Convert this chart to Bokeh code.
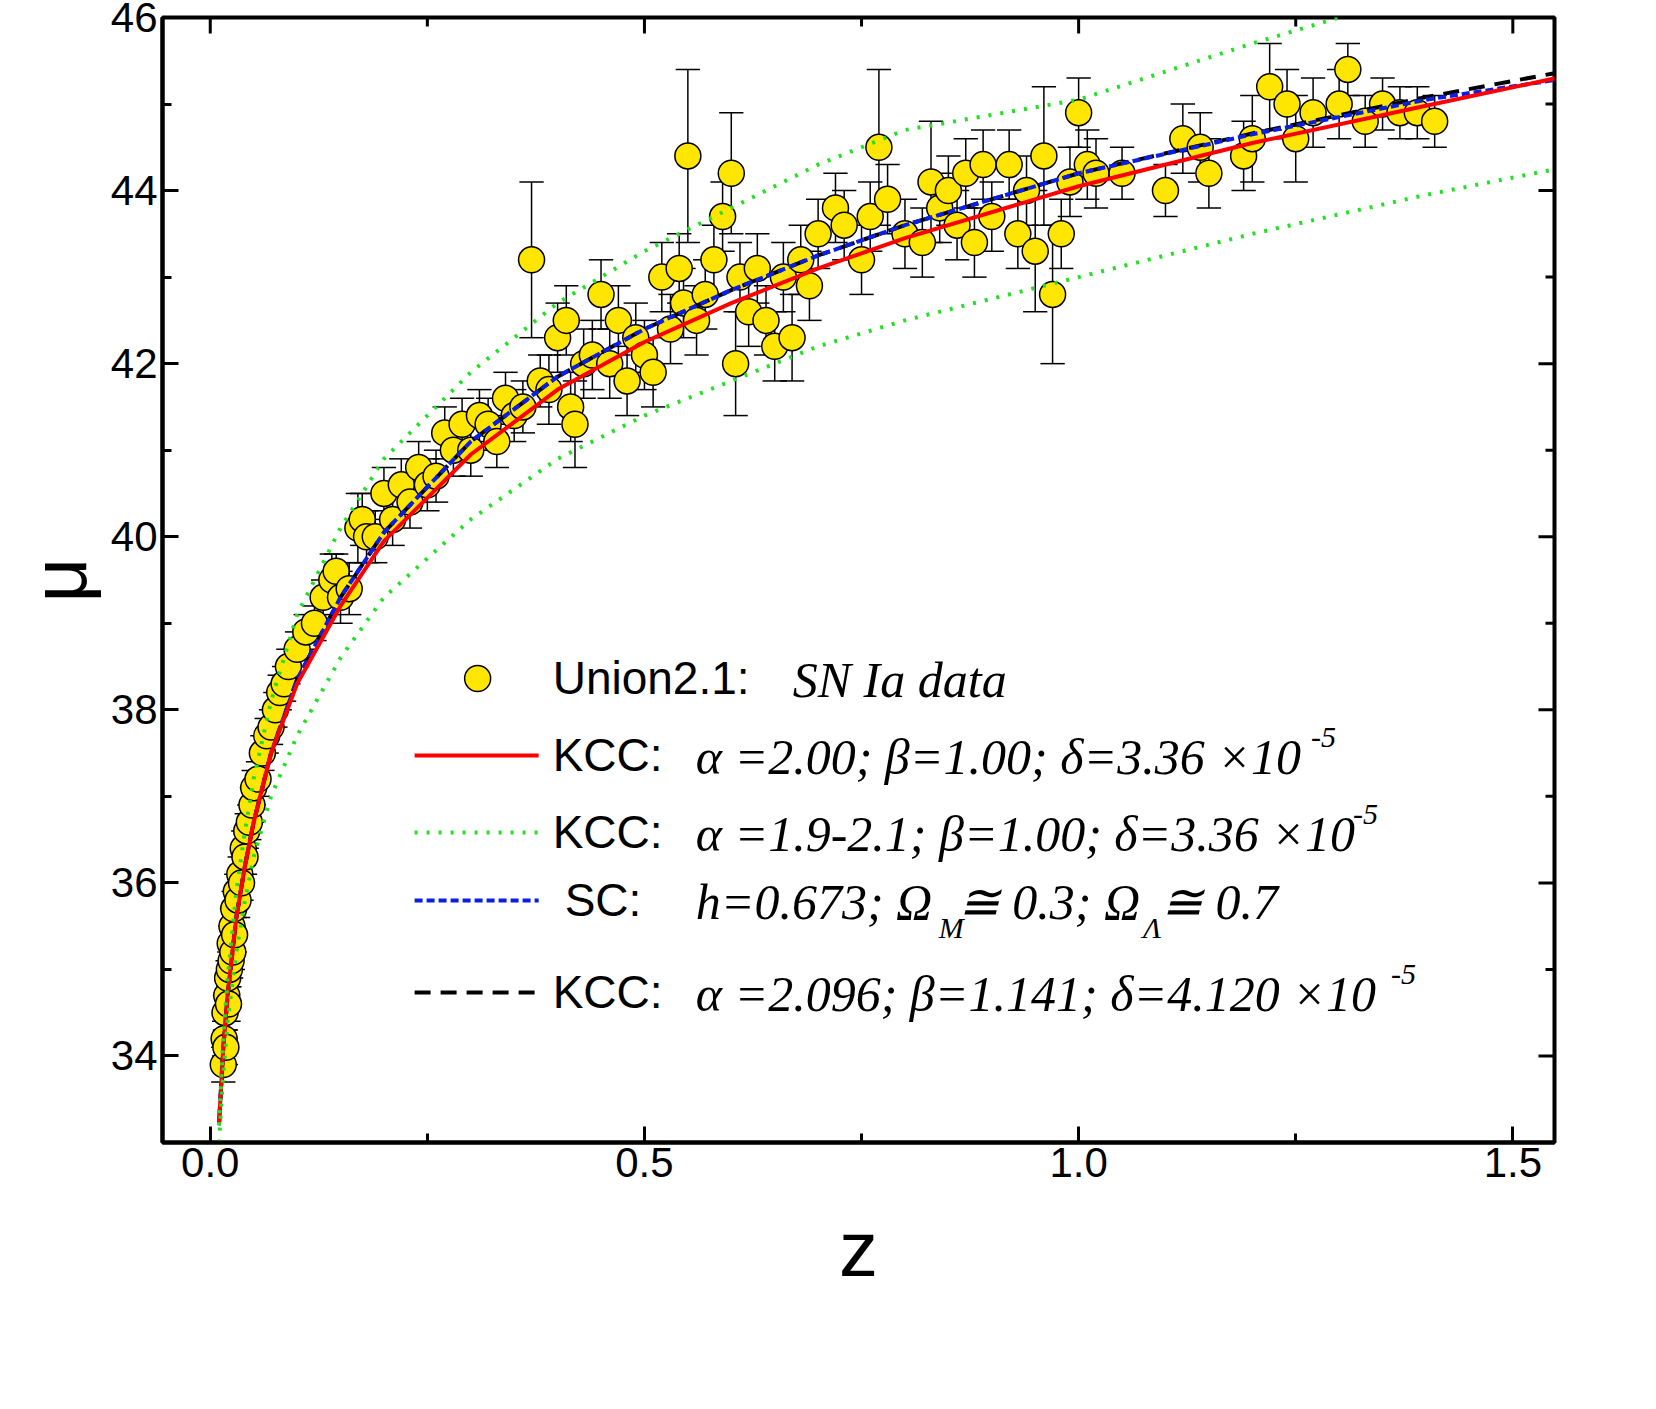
from bokeh.plotting import figure
from bokeh.models import Label, Range1d, FixedTicker
from bokeh.embed import file_html
from bokeh.resources import INLINE

# ---- data ----
sn_z = [0.015,0.016,0.017,0.018,0.019,0.02,0.021,0.022,0.023,0.024,0.025,0.026,0.027,0.028,0.03,0.032,0.034,0.036,0.038,0.04,
        0.042,0.045,0.048,0.05,0.055,0.06,0.065,0.07,0.075,0.08,0.085,0.09,0.1,0.11,0.12,0.13,0.14,0.145,0.15,0.16,
        0.17,0.175,0.18,0.19,0.2,0.21,0.22,0.23,0.24,0.25,0.26,0.27,0.28,0.29,0.3,0.31,0.32,0.33,0.34,0.35,
        0.36,0.37,0.38,0.39,0.4,0.41,0.415,0.42,0.43,0.44,0.45,0.46,0.47,0.48,0.49,0.5,0.51,0.52,0.53,0.54,
        0.545,0.55,0.56,0.57,0.58,0.59,0.6,0.605,0.61,0.62,0.63,0.64,0.65,0.66,0.67,0.68,0.69,0.7,0.72,0.73,
        0.75,0.76,0.77,0.78,0.8,0.82,0.83,0.84,0.85,0.86,0.87,0.88,0.89,0.9,0.92,0.93,0.94,0.95,0.96,0.97,
        0.98,0.99,1.0,1.01,1.02,1.05,1.1,1.12,1.14,1.15,1.19,1.2,1.22,1.24,1.25,1.27,1.3,1.31,1.33,1.35,
        1.37,1.39,1.41]
sn_mu = [33.9,34.2,34.5,34.1,34.7,34.9,34.6,35.0,35.3,35.1,35.5,35.2,35.7,35.4,35.9,35.8,36.1,36.0,36.4,36.3,
         36.6,36.7,36.9,37.1,37.2,37.5,37.7,37.8,38.0,38.2,38.3,38.5,38.7,38.9,39.0,39.3,39.5,39.6,39.3,39.4,
         40.1,40.2,40.0,40.0,40.5,40.2,40.6,40.4,40.8,40.6,40.7,41.2,41.0,41.3,41.0,41.4,41.3,41.1,41.6,41.4,
         41.5,43.2,41.8,41.7,42.3,42.5,41.5,41.3,42.0,42.1,42.8,42.0,42.5,41.8,42.3,42.1,41.9,43.0,42.4,43.1,
         42.7,44.4,42.5,42.8,43.2,43.7,44.2,42.0,43.0,42.6,43.1,42.5,42.2,43.0,42.3,43.2,42.9,43.5,43.8,43.6,
         43.2,43.7,44.5,43.9,43.5,43.4,44.1,43.8,44.0,43.6,44.2,43.4,44.3,43.7,44.3,43.5,44.0,43.3,44.4,42.8,
         43.5,44.1,44.9,44.3,44.2,44.2,44.0,44.6,44.5,44.2,44.4,44.6,45.2,45.0,44.6,44.9,45.0,45.4,44.8,45.0,
         44.9,44.9,44.8]
sn_err = [0.2,0.2,0.2,0.2,0.2,0.2,0.2,0.2,0.2,0.2,0.2,0.2,0.2,0.2,0.2,0.2,0.2,0.2,0.2,0.2,
          0.2,0.2,0.2,0.2,0.2,0.2,0.2,0.2,0.2,0.2,0.2,0.2,0.2,0.2,0.2,0.2,0.3,0.2,0.3,0.3,
          0.4,0.3,0.3,0.3,0.3,0.3,0.3,0.3,0.3,0.3,0.3,0.3,0.3,0.3,0.3,0.3,0.3,0.3,0.3,0.3,
          0.3,0.9,0.3,0.4,0.4,0.4,0.4,0.5,0.4,0.4,0.4,0.4,0.4,0.4,0.4,0.4,0.4,0.4,0.4,0.4,
          0.4,1.0,0.4,0.4,0.4,0.4,0.7,0.6,0.4,0.4,0.4,0.4,0.4,0.4,0.5,0.4,0.4,0.4,0.4,0.4,
          0.4,0.4,0.9,0.4,0.4,0.4,0.7,0.4,0.4,0.4,0.4,0.4,0.4,0.4,0.4,0.4,0.4,0.7,0.8,0.8,
          0.4,0.4,0.4,0.4,0.4,0.3,0.3,0.4,0.4,0.4,0.4,0.5,0.5,0.4,0.5,0.4,0.4,0.3,0.3,0.3,
          0.3,0.3,0.3]

curve_z = [0.01,0.015,0.02,0.03,0.04,0.05,0.07,0.1,0.15,0.2,0.3,0.4,0.5,0.6,0.7,0.8,1.0,1.2,1.4,1.55]
kcc_red = [33.2,34.1,34.7,35.6,36.2,36.7,37.5,38.3,39.2,39.95,40.95,41.7,42.25,42.7,43.1,43.45,44.05,44.55,44.98,45.3]
sc_blue = [33.2,34.1,34.7,35.6,36.2,36.7,37.5,38.35,39.3,40.05,41.1,41.85,42.4,42.85,43.25,43.6,44.2,44.65,45.05,45.28]
kcc_fit = [33.2,34.1,34.7,35.6,36.2,36.7,37.5,38.35,39.3,40.05,41.1,41.85,42.4,42.85,43.25,43.6,44.2,44.66,45.08,45.36]
kcc_up = [33.2,34.2,34.9,35.9,36.6,37.2,38.1,39.1,40.1,40.9,41.9,42.7,43.3,43.8,44.3,44.7,45.05,45.7,46.3,46.6]
kcc_lo = [33.0,33.8,34.4,35.2,35.8,36.3,37.0,37.7,38.6,39.3,40.2,40.9,41.4,41.8,42.2,42.5,43.0,43.5,43.95,44.25]

x_major = [0, 0.5, 1.0, 1.5]
x_minor = [0.25, 0.75, 1.25]
y_major = [34, 36, 38, 40, 42, 44, 46]
y_minor = [33, 35, 37, 39, 41, 43, 45]

# ---- figure ----
X0, X1, Y0, Y1 = -0.055, 1.548, 33.0, 46.0
p = figure(frame_width=1392, frame_height=1125, x_range=Range1d(X0, X1), y_range=Range1d(Y0, Y1),
           output_backend="svg", toolbar_location=None, min_border_left=162, min_border_top=17,
           min_border_right=20, min_border_bottom=185)
p.grid.visible = False
p.outline_line_color = "black"; p.outline_line_width = 4
FONT = "Liberation Sans"

for ax in (p.xaxis[0], p.yaxis[0]):
    ax.axis_line_width = 4
    ax.major_tick_in = 16; ax.major_tick_out = 0; ax.major_tick_line_width = 3
    ax.minor_tick_in = 9; ax.minor_tick_out = 0; ax.minor_tick_line_width = 3
    ax.major_label_text_font = FONT; ax.major_label_text_font_size = "42px"
    ax.major_label_text_color = "black"
    ax.axis_label_text_font = FONT; ax.axis_label_text_font_size = "78px"
    ax.axis_label_text_font_style = "normal"; ax.axis_label_text_color = "black"

p.xaxis.ticker = FixedTicker(ticks=x_major, minor_ticks=x_minor)
p.yaxis.ticker = FixedTicker(ticks=y_major, minor_ticks=y_minor)
p.xaxis.major_label_overrides = {0: "0.0", 0.5: "0.5", 1.0: "1.0", 1.5: "1.5"}
p.xaxis.axis_label = "z"; p.yaxis.axis_label = "μ"
p.xaxis.axis_label_standoff = 25
p.yaxis.axis_label_standoff = 5

# mirrored ticks on top and right (inward)
def dx(px): return X0 + (px - 170) / 868.0
def dy(py): return Y1 - (py - 25) / 86.54
tl_x_major = 16 / 86.54; tl_x_minor = 9 / 86.54
tl_y_major = 16 / 868.0; tl_y_minor = 9 / 868.0
p.segment(x_major, [Y1] * 4, x_major, [Y1 - tl_x_major] * 4, line_color="black", line_width=3)
p.segment(x_minor, [Y1] * 3, x_minor, [Y1 - tl_x_minor] * 3, line_color="black", line_width=3)
p.segment([X1] * 7, y_major, [X1 - tl_y_major] * 7, y_major, line_color="black", line_width=3)
p.segment([X1] * 7, y_minor, [X1 - tl_y_minor] * 7, y_minor, line_color="black", line_width=3)

# error bars and points
p.segment(sn_z, [m - e for m, e in zip(sn_mu, sn_err)], sn_z, [m + e for m, e in zip(sn_mu, sn_err)],
          line_color="black", line_width=1.5)
cw = 0.014
for sgn in (-1, 1):
    ys = [m + sgn * e for m, e in zip(sn_mu, sn_err)]
    p.segment([z - cw for z in sn_z], ys, [z + cw for z in sn_z], ys, line_color="black", line_width=1.5)
p.scatter(sn_z, sn_mu, size=26, fill_color="#FFE600", line_color="black", line_width=1.5)

# curves
p.line(curve_z, kcc_fit, line_color="black", line_width=4, line_dash="16 10")
p.line(curve_z, sc_blue, line_color="#0A1EE6", line_width=4, line_dash="8 4")
p.line(curve_z, kcc_red, line_color="#FF0000", line_width=4)
p.line(curve_z, kcc_up, line_color="#22E022", line_width=4, line_dash="3 9")
p.line(curve_z, kcc_lo, line_color="#22E022", line_width=4, line_dash="3 9")

# legend
p.scatter([dx(485)], [dy(686)], size=26, fill_color="#FFE600", line_color="black", line_width=1.5)
p.line([dx(422), dx(546)], [dy(763)] * 2, line_color="#FF0000", line_width=4)
p.line([dx(422), dx(546)], [dy(840)] * 2, line_color="#22E022", line_width=4, line_dash="3 9")
p.line([dx(422), dx(546)], [dy(908)] * 2, line_color="#0A1EE6", line_width=4, line_dash="8 4")
p.line([dx(422), dx(546)], [dy(1000)] * 2, line_color="black", line_width=4, line_dash="16 10")

def lab(px, py, t, italic=False, size=46, font=FONT):
    p.add_layout(Label(x=dx(px), y=dy(py), text=t, text_font=font, text_font_size=f"{size}px",
                       text_font_style="italic" if italic else "normal", text_baseline="middle",
                       text_color="black"))

SERIF = "Liberation Serif"
lab(560, 686, "Union2.1:"); lab(800, 688, "SN Ia data", True, 50, SERIF)
lab(560, 763, "KCC:"); lab(703, 765, "α =2.00; β=1.00; δ=3.36 ×10", True, 50, SERIF); lab(1318, 745, "-5", True, 30, SERIF)
lab(560, 840, "KCC:"); lab(703, 842, "α =1.9-2.1; β=1.00; δ=3.36 ×10", True, 50, SERIF); lab(1360, 822, "-5", True, 30, SERIF)
lab(572, 908, "SC:"); lab(703, 910, "h=0.673; Ω", True, 50, SERIF)
lab(946, 935, "M", True, 30, SERIF); lab(965, 910, "≅ 0.3; Ω", True, 50, SERIF)
lab(1150, 935, "Λ", True, 30, SERIF); lab(1168, 910, "≅ 0.7", True, 50, SERIF)
lab(560, 1000, "KCC:"); lab(703, 1002, "α =2.096; β=1.141; δ=4.120 ×10", True, 50, SERIF); lab(1398, 982, "-5", True, 30, SERIF)

open("out.html", "w").write(file_html(p, INLINE))
